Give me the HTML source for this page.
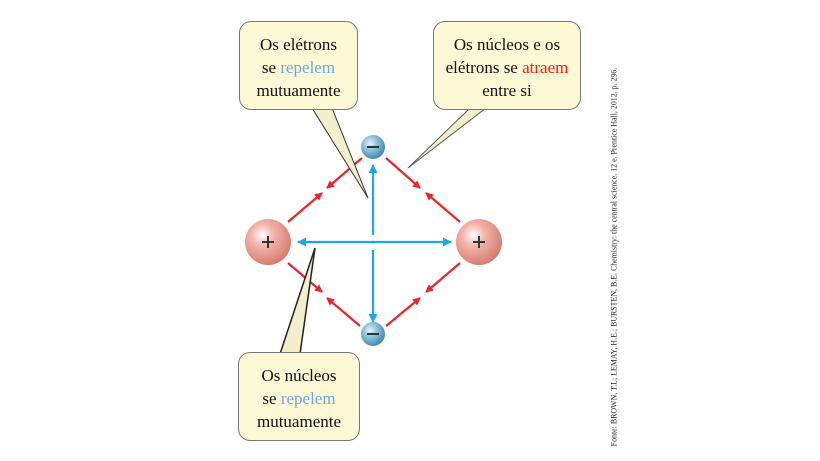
<!DOCTYPE html>
<html><head><style>
body{margin:0;background:#fff;width:820px;height:461px;overflow:hidden;position:relative;font-family:"Liberation Serif",serif}
.box{position:absolute;background:#fdf8d6;border:1px solid #777;border-radius:12px;text-align:center;font-size:17px;line-height:23px;color:#111;box-sizing:border-box;padding-top:11px}
.b{color:#6aa8e0}.r{color:#e8201c}
.cred{position:absolute;left:614px;top:257px;transform:translate(-50%,-50%) rotate(-90deg);font-size:7.9px;white-space:nowrap;color:#222}
</style></head><body>
<svg width="820" height="461" style="position:absolute;left:0;top:0">
<defs>
<radialGradient id="n" cx="0.38" cy="0.35" r="0.7"><stop offset="0" stop-color="#fff"/><stop offset="0.35" stop-color="#f2b4aa"/><stop offset="1" stop-color="#d5776c"/></radialGradient>
<radialGradient id="e" cx="0.38" cy="0.35" r="0.7"><stop offset="0" stop-color="#e8f4fa"/><stop offset="0.4" stop-color="#8ec3db"/><stop offset="1" stop-color="#3f85a8"/></radialGradient>
<marker id="ar" markerWidth="8" markerHeight="8" refX="7" refY="4" orient="auto" markerUnits="userSpaceOnUse"><path d="M0,0L8,4L0,8z" fill="#e8262b"/></marker>
<marker id="ab" markerWidth="9" markerHeight="9" refX="8" refY="4.5" orient="auto" markerUnits="userSpaceOnUse"><path d="M0,0L9,4.5L0,9z" fill="#1ea8e0"/></marker>
</defs>
<g stroke="#e8262b" stroke-width="2.2" marker-end="url(#ar)">
<line x1="362" y1="158" x2="327" y2="188"/><line x1="288" y1="222" x2="322" y2="193"/>
<line x1="386" y1="158" x2="420" y2="188"/><line x1="460" y1="222" x2="426" y2="193"/>
<line x1="288" y1="263" x2="322" y2="292"/><line x1="360" y1="326" x2="327" y2="298"/>
<line x1="460" y1="263" x2="426" y2="292"/><line x1="386" y1="326" x2="420" y2="298"/>
</g>
<g stroke="#1ea8e0" stroke-width="2.2">
<line x1="373" y1="235" x2="373" y2="165" marker-end="url(#ab)"/>
<line x1="373" y1="250" x2="373" y2="322" marker-end="url(#ab)"/>
<line x1="374" y1="242" x2="298" y2="242" marker-end="url(#ab)"/>
<line x1="372" y1="242" x2="451" y2="242" marker-end="url(#ab)"/>
</g>
<circle cx="268" cy="242" r="23" fill="url(#n)"/>
<circle cx="479" cy="242" r="23" fill="url(#n)"/>
<circle cx="373" cy="147" r="12" fill="url(#e)"/>
<circle cx="373" cy="334" r="12" fill="url(#e)"/>
<g stroke="#333" stroke-width="2"><line x1="262" y1="242" x2="274" y2="242"/><line x1="268" y1="236" x2="268" y2="248"/>
<line x1="473" y1="242" x2="485" y2="242"/><line x1="479" y1="236" x2="479" y2="248"/>
<line x1="367" y1="147" x2="379" y2="147"/><line x1="367" y1="334" x2="379" y2="334"/></g>
<polygon points="312,108 332,108 368,198" fill="#f3eecb" stroke="#333" stroke-width="1"/>
<polygon points="470,108 486,108 408,168" fill="#f3eecb" stroke="#555" stroke-width="1"/>
<polygon points="280,354 300,354 315,248" fill="#f3eecb" stroke="#222" stroke-width="1.5"/>
</svg>
<div class="box" style="left:239px;top:21px;width:119px;height:89px">Os elétrons<br>se <span class="b">repelem</span><br>mutuamente</div>
<div class="box" style="left:433px;top:21px;width:148px;height:89px">Os núcleos e os<br>elétrons se <span class="r">atraem</span><br>entre si</div>
<div class="box" style="left:238px;top:352px;width:122px;height:89px">Os núcleos<br>se <span class="b">repelem</span><br>mutuamente</div>
<div class="cred">Fonte: BROWN, T.L; LEMAY, H.E.; BURSTEN, B.E. Chemistry: the central science. 12 e. Prentice Hall, 2012. p. 296.</div>
</body></html>
